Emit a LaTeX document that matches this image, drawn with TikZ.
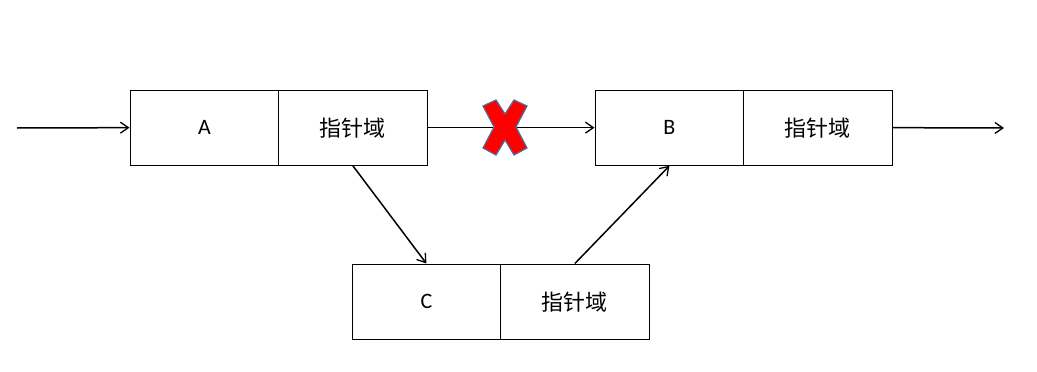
\documentclass[tikz,border=0pt]{standalone}
\usepackage{fontspec}
\setmainfont{Carlito}
\newfontfamily\cjk{Noto Sans CJK SC}
\usetikzlibrary{arrows.meta}
\begin{document}
\begin{tikzpicture}[x=1pt,y=-1pt,
  cell/.style={draw=black,line width=1.3pt,minimum width=148.5pt,minimum height=75pt,inner sep=0pt,font=\fontsize{22}{24}\selectfont},
  conn/.style={line width=1.5pt,-{Straight Barb[length=8pt,width=11pt,line width=1.3pt]}},
  cross/.style={fill=red,draw={rgb,255:red,80;green,110;blue,150},line width=1.2pt,line join=miter}]
\useasboundingbox (0,0) rectangle (1037,372);
% node A
\node[cell,anchor=north west] (Ad) at (129.5,89.5) {A};
\node[cell,anchor=north west] (Ap) at (278,89.5) {\cjk 指针域};
% node B
\node[cell,anchor=north west] (Bd) at (594.5,89.5) {B};
\node[cell,anchor=north west] (Bp) at (743,89.5) {\cjk 指针域};
% node C
\node[cell,anchor=north west] (Cd) at (351.5,263.5) {C};
\node[cell,anchor=north west] (Cp) at (500,263.5) {\cjk 指针域};
\coordinate (in) at (17,128);
\coordinate (out) at (1004,128);
\draw[conn] (in) -- (Ad.west);
\draw[conn] (Ap.east) -- (Bd.west);
\draw[conn] (Bp.east) -- (out);
\draw[conn] (Ap.south) -- (Cd.north);
\draw[conn] (Cp.north) -- (Bd.south);
% red cross
\draw[cross] (483,106) -- (496,100) -- (505,114) -- (514,100) -- (527,106)
  -- (516,127) -- (527,148) -- (514,155) -- (505,140) -- (496,155)
  -- (483,148) -- (494,127) -- cycle;
\end{tikzpicture}
\end{document}
